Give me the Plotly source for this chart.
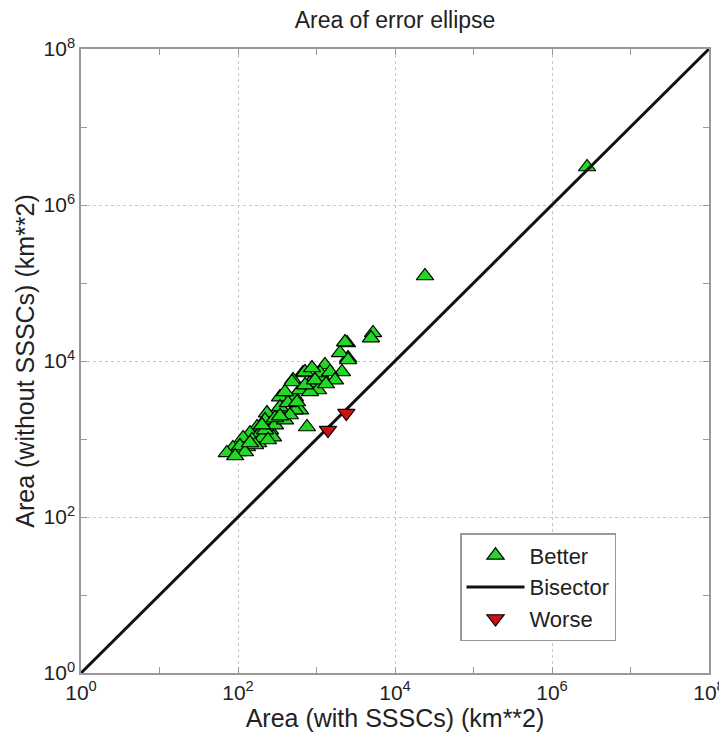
import plotly.graph_objects as go

# Better (green, up-triangles): area with SSSCs vs without SSSCs (km**2)
better_x = [2.8e6, 2.41e4, 5250, 4940, 2450, 2520, 1990, 2110, 1280, 1175,
            673, 826, 502, 343, 532, 617, 364, 234, 757, 1045,
            617, 488, 221, 175, 142, 191, 256, 116, 86, 72,
            130, 180, 279, 343, 532, 826, 1110, 2310, 2520, 714,
            100, 106, 151, 202, 221, 296, 397, 459, 296, 202,
            433, 397, 714, 957, 1490, 1720, 1320, 165, 241, 123,
            92, 142, 343, 565, 877]
better_y = [3.07e6, 1.23e5, 2.29e4, 1.97e4, 1.70e4, 1.09e4, 1.27e4, 7230, 8890, 6240,
            7020, 5220, 5700, 3450, 3450, 2350, 2350, 2150, 1425, 4250,
            4250, 5380, 1750, 1425, 1190, 1190, 1300, 1030, 767, 662,
            790, 889, 1060, 2570, 2350, 4010, 7020, 1.75e4, 1.03e4, 7230,
            681, 813, 971, 1030, 1300, 1510, 1750, 2030, 1860, 1510,
            2900, 4010, 4920, 5700, 7230, 5700, 5070, 838, 971, 681,
            605, 889, 1970, 2980, 8130]

# Worse (red, down-triangles)
worse_x = [2400, 1400]
worse_y = [2150, 1300]

# Bisector
bis_x = [1, 1e8]
bis_y = [1, 1e8]

tick_vals = [1, 1e2, 1e4, 1e6, 1e8]
tick_text = ["10<sup>0</sup>", "10<sup>2</sup>", "10<sup>4</sup>", "10<sup>6</sup>", "10<sup>8</sup>"]
minor_vals = [1e1, 1e3, 1e5, 1e7]

FONT = "Liberation Sans, Arial, sans-serif"

fig = go.Figure()
fig.add_trace(go.Scatter(
    x=better_x, y=better_y, mode="markers", name="Better",
    marker=dict(symbol="triangle-up", size=15, color="#22d822",
                line=dict(color="black", width=1.2)),
))
fig.add_trace(go.Scatter(
    x=bis_x, y=bis_y, mode="lines", name="Bisector",
    line=dict(color="#111111", width=3),
))
fig.add_trace(go.Scatter(
    x=worse_x, y=worse_y, mode="markers", name="Worse",
    marker=dict(symbol="triangle-down", size=15, color="#d01010",
                line=dict(color="black", width=1.2)),
))

axis_common = dict(
    type="log", automargin=False,
    tickmode="array", tickvals=tick_vals, ticktext=tick_text,
    showgrid=True, gridcolor="#c8c8c8", griddash="dot", gridwidth=1,
    zeroline=False,
    showline=True, linecolor="#999999", linewidth=1.5, mirror="ticks",
    ticks="inside", ticklen=6, tickcolor="#999999",
    minor=dict(tickvals=minor_vals, ticks="inside", ticklen=6,
               tickcolor="#999999", showgrid=False),
    tickfont=dict(family=FONT, size=21, color="#222222"),
    range=[0, 8],
)

W, H = 719, 726
L, R, T, B = 73, 18, 41, 61

fig.update_layout(
    width=W, height=H,
    paper_bgcolor="white", plot_bgcolor="white",
    margin=dict(l=L, r=R, t=T, b=B, autoexpand=False),
    title=dict(text="Area of error ellipse", x=(L + (W - R)) / 2 / W, xanchor="center",
               y=1 - 4 / H, yanchor="top", automargin=False, pad=dict(t=0, b=0),
               font=dict(family=FONT, size=23, color="#222222")),
    xaxis=dict(axis_common,
               title=dict(text="Area (with SSSCs) (km**2)", standoff=2,
                          font=dict(family=FONT, size=25, color="#222222"))),
    yaxis=dict(axis_common,
               title=dict(text="Area (without SSSCs) (km**2)", standoff=2,
                          font=dict(family=FONT, size=25, color="#222222"))),
    legend=dict(x=(460 - 81) / 628, y=(673 - 533) / 624, xanchor="left", yanchor="top",
                bordercolor="#999999", borderwidth=1.5, bgcolor="white",
                font=dict(family=FONT, size=22, color="#222222"),
                itemwidth=58, tracegroupgap=0),
    showlegend=True,
)

fig.write_html("out.html")
